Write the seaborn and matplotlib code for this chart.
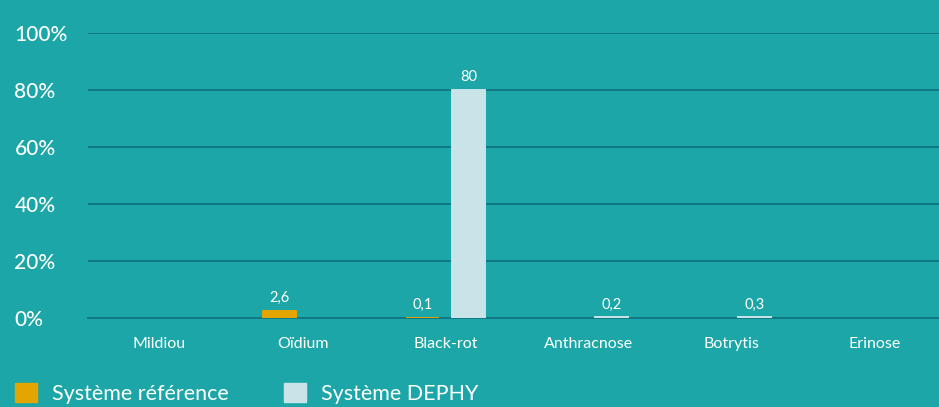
import matplotlib
matplotlib.use('Agg')
import matplotlib.pyplot as plt
import seaborn as sns
import pandas as pd

categories = ['Mildiou', 'Oïdium', 'Black-rot', 'Anthracnose', 'Botrytis', 'Erinose']
series = ['Système référence', 'Système DEPHY']
ref_values = [0, 2.6, 0.1, 0, 0, 0]
dephy_values = [0, 0, 80, 0.2, 0.3, 0]
ref_labels = ['', '2,6', '0,1', '', '', '']
dephy_labels = ['', '', '80', '0,2', '0,3', '']
yticks = [0, 20, 40, 60, 80, 100]
ytick_labels = ['0%', '20%', '40%', '60%', '80%', '100%']

bg = '#1ca6a8'
grid_col = '#0f6f7f'
colors = ['#e5a500', '#c8e4e8']

df = pd.DataFrame({
    'cat': categories * 2,
    'serie': [series[0]] * 6 + [series[1]] * 6,
    'val': ref_values + dephy_values,
})

sns.set_style('white')
plt.rcParams['font.family'] = ['Lato', 'DejaVu Sans']

fig = plt.figure(figsize=(9.39, 4.07), dpi=100, facecolor=bg)
ax = fig.add_axes([88 / 939, 89 / 407, 858 / 939, 285 / 407])
ax.set_facecolor(bg)

sns.barplot(data=df, x='cat', y='val', hue='serie', order=categories, hue_order=series,
            palette=colors, width=0.64, gap=0.28, saturation=1, ax=ax, legend=True)

# thin bars stay visible as a line of their own colour, empty ones are hidden
for cont, col in zip(ax.containers, colors):
    for b in cont:
        b.set_edgecolor(col)
        b.set_linewidth(1.4 if b.get_height() > 0 else 0)
        b.set_zorder(3)

for cont, labs in zip(ax.containers, [ref_labels, dephy_labels]):
    ax.bar_label(cont, labels=labs, padding=4, color='white', fontsize=10.5)

ax.set_ylim(0, 100)
ax.set_xlim(-0.5, 5.5)
ax.set_yticks(yticks)
ax.set_yticklabels(ytick_labels)
for y in yticks[1:]:
    ax.axhline(y, color=grid_col, lw=1.2, zorder=0)
ax.tick_params(axis='y', length=0, pad=53, labelsize=15, labelcolor='white')
for t in ax.get_yticklabels():
    t.set_ha('left')
    t.set_fontweight('medium')
ax.tick_params(axis='x', which='major', length=0, pad=14, labelsize=11.5, labelcolor='white')
ax.set_xticks([0.5, 1.5, 2.5, 3.5, 4.5], minor=True)
ax.tick_params(axis='x', which='minor', direction='in', length=6, width=1.2, color=grid_col)
ax.set_xlabel('')
ax.set_ylabel('')
for s in ['top', 'right', 'left']:
    ax.spines[s].set_visible(False)
ax.spines['bottom'].set_color(grid_col)
ax.spines['bottom'].set_linewidth(1.2)
ax.spines['bottom'].set_zorder(2)

handles, labels = ax.get_legend_handles_labels()
for h, col in zip(handles, colors):
    h.set_edgecolor(col)
ax.get_legend().remove()
fig.legend(handles, labels, loc='lower left', bbox_to_anchor=(0.016, 0.008), ncol=2,
           frameon=False, fontsize=15.5, labelcolor='white', handlelength=1.0, handleheight=1.0,
           handletextpad=0.7, columnspacing=2.6, borderaxespad=0, borderpad=0)

fig.savefig('out.png', dpi=100, facecolor=bg)
